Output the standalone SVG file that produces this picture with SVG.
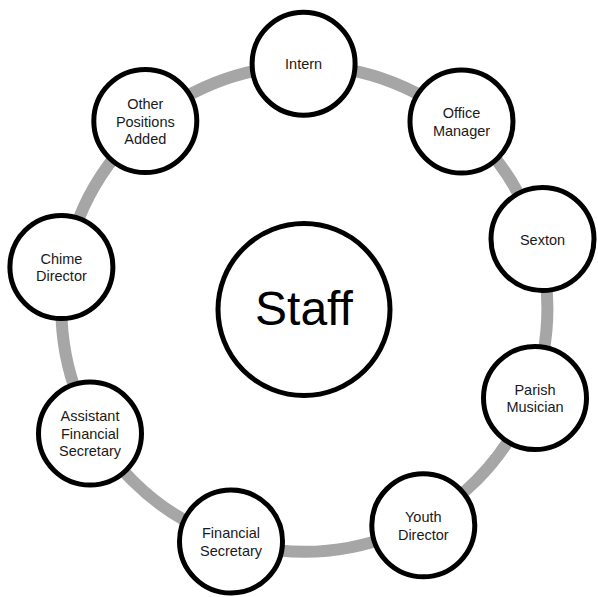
<svg xmlns="http://www.w3.org/2000/svg" width="598" height="597" viewBox="0 0 598 597">
<style>
.node{fill:#fff;stroke:#000;stroke-width:5}
.lbl{font-family:"Liberation Sans",Arial,sans-serif;font-size:14.5px;fill:#1a1a1a;text-anchor:middle}
.big{font-family:"Liberation Sans",Arial,sans-serif;font-size:48px;fill:#000;text-anchor:middle}
</style>
<rect width="598" height="597" fill="#fff"/>
<g id="connectors">
<circle cx="304.4" cy="308.8" r="243" fill="none" stroke="#a6a6a6" stroke-width="12"/>
</g>
<g id="staff">
<circle class="node" cx="304" cy="309.5" r="86"/>
<text class="big" x="304" y="325">Staff</text>
</g>
<g id="intern">
<circle class="node" cx="303.6" cy="63.7" r="51.5"/>
<text class="lbl" x="303.6" y="69">Intern</text>
</g>
<g id="office-manager">
<circle class="node" cx="461.5" cy="121.5" r="51.5"/>
<text class="lbl" x="461.5" y="118">Office</text>
<text class="lbl" x="461.5" y="135.5">Manager</text>
</g>
<g id="sexton">
<circle class="node" cx="542.5" cy="239" r="51.5"/>
<text class="lbl" x="542.5" y="244.5">Sexton</text>
</g>
<g id="parish-musician">
<circle class="node" cx="535" cy="398" r="51.5"/>
<text class="lbl" x="535" y="394.5">Parish</text>
<text class="lbl" x="535" y="412">Musician</text>
</g>
<g id="youth-director">
<circle class="node" cx="423.3" cy="525.3" r="51.5"/>
<text class="lbl" x="423.3" y="522">Youth</text>
<text class="lbl" x="423.3" y="539.5">Director</text>
</g>
<g id="financial-secretary">
<circle class="node" cx="231" cy="541.5" r="51.5"/>
<text class="lbl" x="231" y="538">Financial</text>
<text class="lbl" x="231" y="555.5">Secretary</text>
</g>
<g id="assistant-financial-secretary">
<circle class="node" cx="90" cy="433.6" r="51.5"/>
<text class="lbl" x="90" y="421">Assistant</text>
<text class="lbl" x="90" y="438.5">Financial</text>
<text class="lbl" x="90" y="456">Secretary</text>
</g>
<g id="chime-director">
<circle class="node" cx="61.4" cy="267" r="51.5"/>
<text class="lbl" x="61.4" y="263.5">Chime</text>
<text class="lbl" x="61.4" y="281">Director</text>
</g>
<g id="other-positions-added">
<circle class="node" cx="145.3" cy="121" r="51.5"/>
<text class="lbl" x="145.3" y="109">Other</text>
<text class="lbl" x="145.3" y="126.5">Positions</text>
<text class="lbl" x="145.3" y="144">Added</text>
</g>
</svg>
